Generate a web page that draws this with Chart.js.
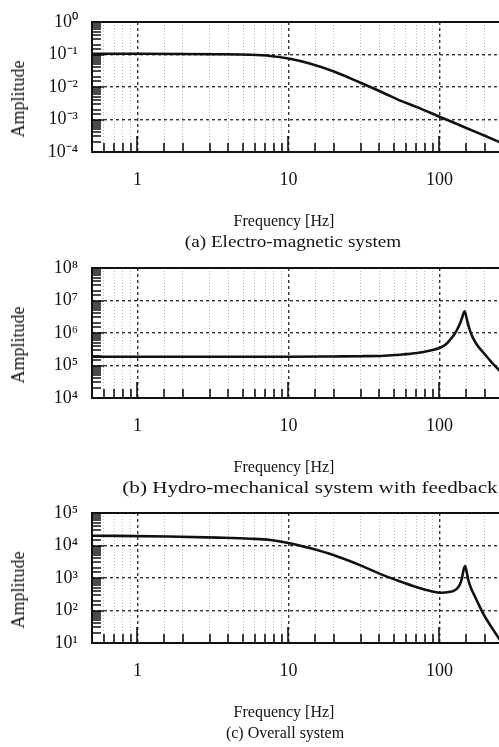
<!DOCTYPE html>
<html>
<head>
<meta charset="utf-8">
<title>Amplitude responses</title>
<script src="https://cdn.jsdelivr.net/npm/chart.js@4.4.1/dist/chart.umd.min.js"></script>
<style>
  html, body { margin: 0; padding: 0; background: #fff; }
  body {
    width: 499px; height: 747px; overflow: hidden; position: relative;
    font-family: 'Liberation Serif', 'Times New Roman', serif; color: #111;
  }
  .panel { position: absolute; left: 0; width: 555px; height: 246px; }
  .panel canvas { position: absolute; left: 0; top: 0; }
  .txt {
    position: absolute; white-space: nowrap; line-height: 1; font-size: 16px;
    transform: translate(-50%, -50%);
  }
  .ytitle { left: 18px; top: 99px; font-size: 18px; transform: translate(-50%, -50%) rotate(-90deg); }
  .xtitle { left: 284px; top: 221px; }
  .caption { top: 242px; }
</style>
</head>
<body>

<div class="panel" style="top:0px">
  <canvas id="chartA" width="555" height="246"></canvas>
  <div class="txt ytitle">Amplitude</div>
  <div class="txt xtitle">Frequency [Hz]</div>
  <div class="txt caption" style="left:293px; transform: translate(-50%, -50%) scaleX(1.2)">(a) Electro-magnetic system</div>
</div>

<div class="panel" style="top:246px">
  <canvas id="chartB" width="555" height="246"></canvas>
  <div class="txt ytitle">Amplitude</div>
  <div class="txt xtitle">Frequency [Hz]</div>
  <div class="txt caption" style="left:310px; transform: translate(-50%, -50%) scaleX(1.32)">(b) Hydro-mechanical system with feedback</div>
</div>

<div class="panel" style="top:491px">
  <canvas id="chartC" width="555" height="246"></canvas>
  <div class="txt ytitle">Amplitude</div>
  <div class="txt xtitle">Frequency [Hz]</div>
  <div class="txt caption" style="left:285px;">(c) Overall system</div>
</div>

<script>
// (a) electro-magnetic system
const freqA = [0.5, 1, 2, 3.4, 5.6, 7.6, 10, 14, 20, 30, 42, 55, 71, 100, 144, 195, 246, 260];
const ampA = [0.105, 0.105, 0.104, 0.102, 0.098, 0.09, 0.075, 0.052, 0.03, 0.0135, 0.0068, 0.0038, 0.0024, 0.00122, 0.0006, 0.00033, 0.000208, 0.000186];

// (b) hydro-mechanical system with feedback
const freqB = [0.5, 1, 2, 5, 10, 20, 30, 43, 55, 71, 87, 101, 110, 118, 125, 131, 137, 141, 147, 152, 156, 162, 169, 180, 196, 220, 246, 260];
const ampB = [1.85e5, 1.85e5, 1.85e5, 1.85e5, 1.86e5, 1.9e5, 1.93e5, 2.0e5, 2.15e5, 2.42e5, 2.9e5, 3.5e5, 4.4e5, 6.3e5, 8.8e5, 1.28e6, 2.0e6, 2.9e6, 4.68e6, 2.6e6, 1.62e6, 9.5e5, 6.3e5, 3.9e5, 2.46e5, 1.3e5, 7.5e4, 5.7e4];

// (c) overall system
const freqC = [0.5, 1.6, 3.4, 5.6, 7.6, 10, 14, 20, 30, 42, 55, 71, 87, 103, 118, 124, 131, 137, 141, 145, 148, 152, 156, 162, 169, 180, 196, 220, 246, 260];
const ampC = [2.0e4, 1.9e4, 1.75e4, 1.62e4, 1.48e4, 1.2e4, 8.2e3, 5.0e3, 2.45e3, 1.25e3, 780, 520, 400, 350, 375, 400, 480, 650, 1000, 1900, 2340, 1400, 809, 480, 315, 170, 76, 32, 14.5, 10];

// axis ranges and labelled ticks
const xRange = [0.5, 500];
const xTickLabels = [1, 10, 100];
const yRangeA = [1e-4, 1];
const yRangeB = [1e4, 1e8];
const yRangeC = [1e1, 1e5];

const serif = "'Liberation Serif', 'Times New Roman', serif";
Chart.defaults.font.family = serif;
Chart.defaults.color = '#111';

function isDecade(v) {
  const e = Math.log10(v);
  return Math.abs(e - Math.round(e)) < 1e-6;
}

function superscript(n) {
  const map = { '-': '\u207B', '0': '\u2070', '1': '\u00B9', '2': '\u00B2', '3': '\u00B3',
    '4': '\u2074', '5': '\u2075', '6': '\u2076', '7': '\u2077', '8': '\u2078', '9': '\u2079' };
  return String(n).split('').map(c => map[c]).join('');
}

// box around the plot plus tick marks pointing inwards
const frameTicks = {
  id: 'frameTicks',
  afterDatasetsDraw(chart) {
    const { ctx, chartArea: a, scales: { x, y } } = chart;
    ctx.save();
    ctx.strokeStyle = '#111';
    ctx.lineWidth = 1.6;
    ctx.beginPath();
    x.ticks.forEach(t => {
      const px = Math.round(x.getPixelForValue(t.value));
      const len = isDecade(t.value) ? 16 : 9;
      ctx.moveTo(px, a.bottom);
      ctx.lineTo(px, a.bottom - len);
    });
    y.ticks.forEach(t => {
      const py = Math.round(y.getPixelForValue(t.value));
      const len = isDecade(t.value) ? 12 : 9;
      ctx.moveTo(a.left, py);
      ctx.lineTo(a.left + len, py);
    });
    ctx.stroke();
    ctx.lineWidth = 2;
    ctx.strokeRect(a.left, a.top, a.right - a.left, a.bottom - a.top);
    ctx.restore();
  }
};

function makeChart(id, freq, amp, yRange) {
  return new Chart(document.getElementById(id), {
    type: 'line',
    data: {
      datasets: [{
        data: freq.map((f, i) => ({ x: f, y: amp[i] })),
        borderColor: '#111',
        borderWidth: 2.6,
        pointRadius: 0,
        cubicInterpolationMode: 'monotone',
        fill: false
      }]
    },
    options: {
      responsive: false,
      animation: false,
      events: [],
      layout: { padding: { top: 22, right: 10, bottom: 0, left: 0 } },
      plugins: { legend: { display: false }, tooltip: { enabled: false } },
      scales: {
        x: {
          type: 'logarithmic',
          min: xRange[0],
          max: xRange[1],
          // fixed band under the plot; no extra side padding for labels
          afterFit(s) {
            s.height = 94;
            s.paddingLeft = 0;
            s.paddingRight = 0;
          },
          grid: {
            drawTicks: false,
            color: c => (c.tick && isDecade(c.tick.value)) ? '#333' : '#b8b8b8',
            lineWidth: c => (c.tick && isDecade(c.tick.value)) ? 1.4 : 1
          },
          border: {
            display: false,
            dash: c => (c.tick && isDecade(c.tick.value)) ? [3, 3] : [1, 2]
          },
          ticks: {
            autoSkip: false,
            maxRotation: 0,
            padding: 17,
            font: { size: 18 },
            callback: v => {
              const t = xTickLabels.find(d => Math.abs(d - v) < 1e-9 * d);
              return t ? String(t) : '';
            }
          }
        },
        y: {
          type: 'logarithmic',
          min: yRange[0],
          max: yRange[1],
          afterFit(s) {
            s.width = 92;
            s.paddingTop = 0;
            s.paddingBottom = 0;
          },
          grid: {
            drawTicks: false,
            color: c => (c.tick && isDecade(c.tick.value)) ? '#333' : 'rgba(0,0,0,0)',
            lineWidth: 1.4
          },
          border: { display: false, dash: [3, 3] },
          ticks: {
            autoSkip: false,
            padding: 14,
            font: { size: 18 },
            callback: v => isDecade(v) ? '10' + superscript(Math.round(Math.log10(v))) : ''
          }
        }
      }
    },
    plugins: [frameTicks]
  });
}

makeChart('chartA', freqA, ampA, yRangeA);
makeChart('chartB', freqB, ampB, yRangeB);
makeChart('chartC', freqC, ampC, yRangeC);
</script>
</body>
</html>
